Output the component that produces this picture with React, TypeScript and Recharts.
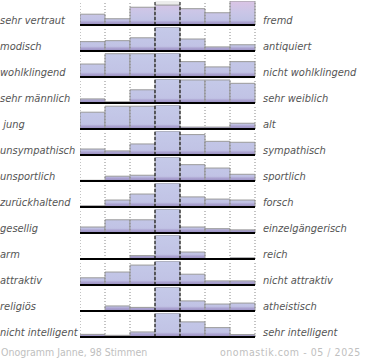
import { Bar, BarChart, ReferenceArea, ReferenceLine, XAxis, YAxis } from 'recharts'

// seven answer steps between the two poles
const bins = ['1', '2', '3', '4', '5', '6', '7']

const leftLabels = [
  'sehr vertraut', 'modisch', 'wohlklingend', 'sehr männlich', ' jung', 'unsympathisch',
  'unsportlich', 'zurückhaltend', 'gesellig', 'arm', 'attraktiv', 'religiös', 'nicht intelligent'
]
const rightLabels = [
  'fremd', 'antiquiert', 'nicht wohlklingend', 'sehr weiblich', 'alt', 'sympathisch',
  'sportlich', 'forsch', 'einzelgängerisch', 'reich', 'nicht attraktiv', 'atheistisch', 'sehr intelligent'
]

// share of votes per step, 100 = full row height (clipped above)
const vertraut = [45, 26, 74, 83, 68, 51, 100]
const modisch = [39, 43, 55, 100, 50, 17, 26]
const wohlklingend = [54, 97, 97, 100, 64, 42, 64]
const maennlich = [17, 5, 55, 100, 96, 96, 82]
const jung = [70, 95, 95, 100, 8, 8, 24]
const unsympathisch = [25, 17, 46, 100, 85, 57, 53]
const unsportlich = [3, 20, 24, 100, 68, 54, 28]
const zurueckhaltend = [5, 29, 54, 100, 42, 33, 29]
const gesellig = [25, 55, 55, 100, 25, 18, 13]
const arm = [0, 0, 14, 100, 29, 0, 5]
const attraktiv = [30, 54, 83, 100, 45, 17, 17]
const religioes = [0, 21, 15, 100, 42, 29, 33]
const intelligent = [11, 7, 21, 100, 63, 39, 10]

const rows = [
  vertraut, modisch, wohlklingend, maennlich, jung, unsympathisch, unsportlich,
  zurueckhaltend, gesellig, arm, attraktiv, religioes, intelligent
]

const font = "'DejaVu Sans Condensed', 'DejaVu Sans', sans-serif"

const labelStyle: React.CSSProperties = {
  position: 'absolute',
  top: 14,
  fontFamily: font,
  fontStretch: 'condensed',
  fontStyle: 'italic',
  fontSize: 11,
  lineHeight: '13px',
  color: '#555',
  whiteSpace: 'pre'
}

const dotted = { stroke: '#888', strokeDasharray: '1 2', strokeWidth: 1 }
const dashed = { stroke: '#000', strokeDasharray: '3 2', strokeWidth: 1 }

function Row({ values, left, right, index }: { values: number[]; left: string; right: string; index: number }) {
  const data = bins.map((b, i) => ({ bin: b, v: values[i] }))
  const gid = `fill${index}`
  return (
    <div style={{ position: 'absolute', top: index * 26, left: 0, width: 370, height: 26 }}>
      <span style={{ ...labelStyle, left: 0 }}>{left}</span>
      <div style={{ position: 'absolute', left: 80, top: 0 }}>
        <BarChart
          width={176}
          height={26}
          data={data}
          margin={{ top: 1, right: 1, bottom: 1, left: 0 }}
          barCategoryGap={0}
          barGap={0}
        >
          <defs>
            <linearGradient id={gid} gradientUnits="userSpaceOnUse" x1="0" y1="0" x2="0" y2="26">
              {index === 0 ? (
                <>
                  <stop offset="0%" stopColor="#dcc4e5" />
                  <stop offset="45%" stopColor="#cbc6e7" />
                </>
              ) : (
                <stop offset="0%" stopColor="#c5cae9" />
              )}
              <stop offset="78%" stopColor="#c1c3e5" />
              <stop offset="85%" stopColor="#aca4d1" />
              <stop offset="96%" stopColor="#988dc1" />
            </linearGradient>
          </defs>
          <XAxis dataKey="bin" height={0} hide />
          <YAxis hide width={0} domain={[0, 100]} allowDataOverflow />
          {index === 0 && (
            <ReferenceArea x1="4" x2="4" y1={values[3]} y2={100} fill="#ececec" fillOpacity={1} stroke="none" />
          )}
          <Bar dataKey="v" fill={`url(#${gid})`} stroke="#9a9a9a" strokeWidth={1} isAnimationActive={false} />
          {bins.map(b => (
            <ReferenceLine key={b} x={b} position="start" {...(b === '4' || b === '5' ? dashed : dotted)} />
          ))}
          <ReferenceLine x="7" position="end" {...dotted} />
          <ReferenceLine y={0} stroke="#000" strokeWidth={2} />
        </BarChart>
      </div>
      <span style={{ ...labelStyle, left: 263 }}>{right}</span>
    </div>
  )
}

export default function App() {
  const footer: React.CSSProperties = {
    position: 'absolute',
    top: 346,
    fontFamily: font,
    fontSize: 10.5,
    lineHeight: '13px',
    color: '#c0c0c0',
    whiteSpace: 'pre'
  }
  return (
    <div style={{ position: 'absolute', left: 0, top: 0, width: 370, height: 360, background: '#fff', overflow: 'hidden' }}>
      {rows.map((values, i) => (
        <Row key={i} index={i} values={values} left={leftLabels[i]} right={rightLabels[i]} />
      ))}
      <span style={{ ...footer, left: 1 }}>Onogramm Janne, 98 Stimmen</span>
      <span style={{ ...footer, left: 220, letterSpacing: 0.55 }}>onomastik.com - 05 / 2025</span>
    </div>
  )
}
